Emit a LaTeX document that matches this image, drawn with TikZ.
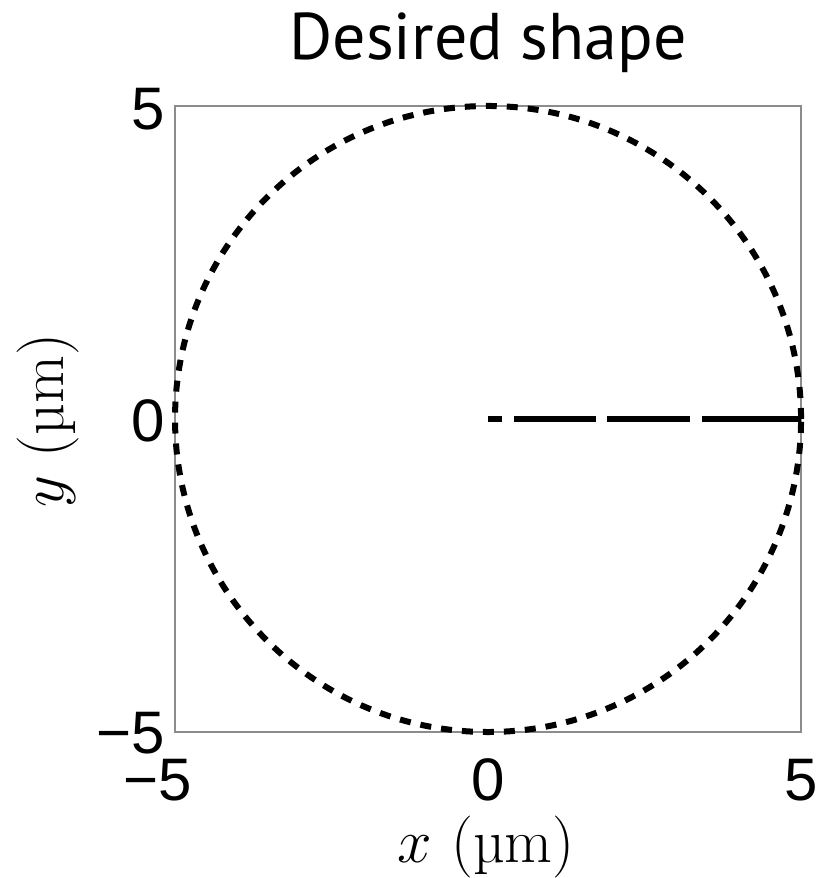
\RequirePackage{fix-cm}
\documentclass[tikz,border=0pt]{standalone}
\usepackage{fontspec}
\newfontfamily\tickfont{Liberation Sans}
\newfontfamily\titlefont{PT Sans}
\usetikzlibrary{positioning}
\tikzset{
  frame/.style={draw=black!45,line width=1pt},
  boundary/.style={draw=black,line width=3pt,dash pattern=on 5.5pt off 5pt},
  radial/.style={draw=black,line width=3pt,dash pattern=on 7pt off 6pt on 41pt off 5.5pt on 41.5pt off 6pt on 60pt},
  ticklabel/.style={font=\tickfont\fontsize{30}{30}\selectfont,inner sep=0pt},
  axislabel/.style={font=\fontsize{31}{31}\selectfont,inner sep=0pt},
  plottitle/.style={font=\titlefont\fontsize{33}{33}\selectfont,inner sep=0pt}
}

\begin{document}
\begin{tikzpicture}[x=31.3pt,y=31.3pt]
  \useasboundingbox (-7.796,-7.332) rectangle (5.272,6.693);

  % plot frame and shape
  \draw[frame] (-5,-5) rectangle (5,5);
  \coordinate (O) at (0,0);
  \coordinate (R) at (5,0);
  \draw[boundary] (O) circle[radius=5];
  \draw[radial] (O) -- (R);

  % title
  \node[plottitle,anchor=base] (title) at (0,5.75) {Desired shape};

  % y ticks
  \node[ticklabel,anchor=base east] (ytop) at (-5.15,4.617) {5};
  \node[ticklabel,anchor=base east] (ymid) at (-5.15,-0.367) {0};
  \node[ticklabel,anchor=base east] (ybot) at (-5.15,-5.35) {−5};

  % x ticks
  \node[ticklabel,anchor=base] (xleft) at (-5,-6.1) {\llap{−}5};
  \node[ticklabel,anchor=base] (xmid) at (0,-6.1) {0};
  \node[ticklabel,anchor=base] (xright) at (5,-6.1) {5};

  % axis labels
  \node[axislabel,anchor=base] (xlab) at (-0.03,-7.077) {$x$ (µm)};
  \node[axislabel,anchor=base,rotate=90] (ylab) at (-6.789,-0.03) {$y$ (µm)};
\end{tikzpicture}
\end{document}
